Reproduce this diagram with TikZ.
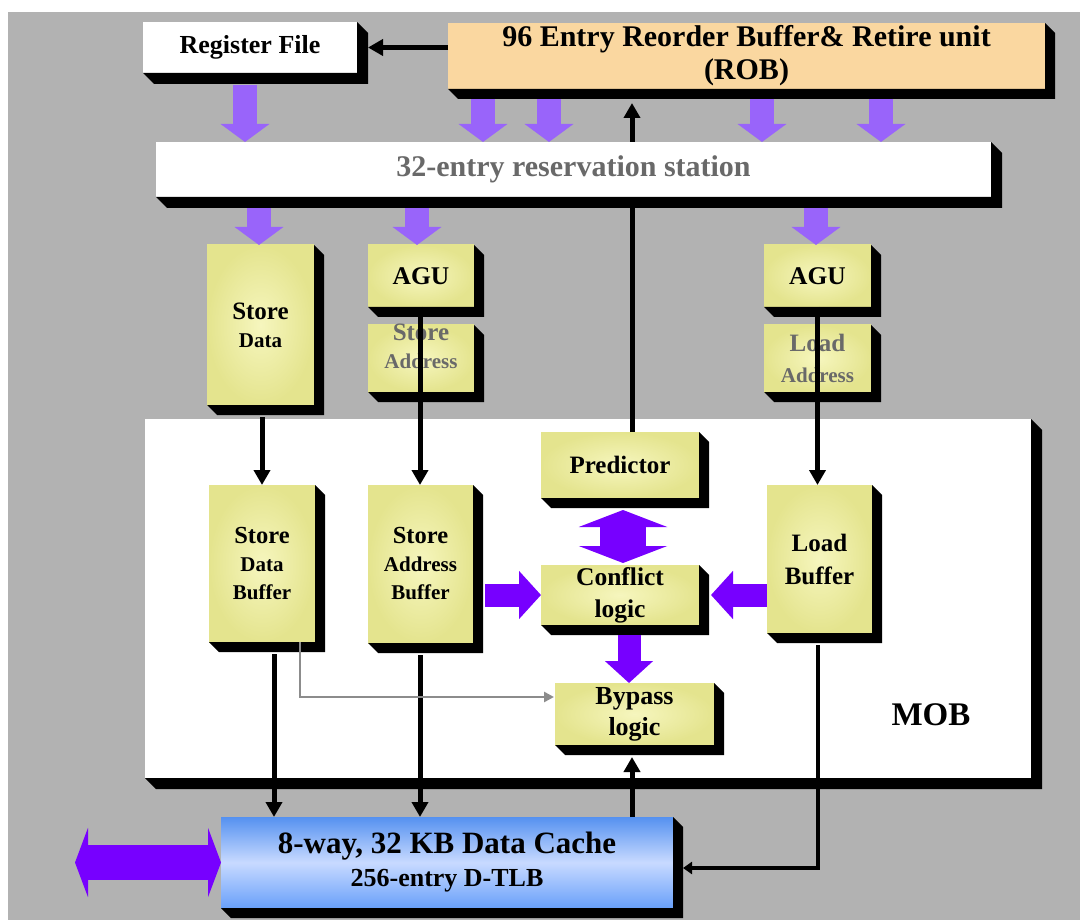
\documentclass[tikz,border=0pt]{standalone}
\usepackage{fontspec}
\setmainfont{Liberation Serif}
\usetikzlibrary{arrows.meta,calc}
\definecolor{bggray}{RGB}{178,178,178}
\definecolor{robc}{RGB}{250,215,160}
\definecolor{yelC}{RGB}{246,246,190}
\definecolor{yelE}{RGB}{228,228,142}
\definecolor{purpL}{RGB}{153,100,250}
\definecolor{purpD}{RGB}{119,0,255}
\definecolor{cacheT}{RGB}{85,145,240}
\definecolor{cacheM}{RGB}{200,218,255}
\definecolor{cacheB}{RGB}{105,160,250}
\definecolor{txtgray}{RGB}{105,105,105}
\definecolor{lnGray}{RGB}{140,140,140}
\newcommand{\shd}[2][10]{\fill[black] (#2.north east) -- ([shift={(#1,#1)}]#2.north east) -- ([shift={(#1,#1)}]#2.south east) -- ([shift={(#1,#1)}]#2.south west) -- (#2.south west) -- (#2.south east) -- cycle;}
\begin{document}
\begin{tikzpicture}[x=1pt,y=-1pt,
  basebox/.style={rectangle, draw=none, inner sep=0pt, outer sep=0pt, align=center, font=\bfseries},
  wbox/.style={basebox, fill=white},
  ybox/.style={basebox, shading=radial, inner color=yelC, outer color=yelE},
  barrow/.style={draw=black, line width=5pt, -{Triangle[length=15pt,width=16pt]}},
  bline/.style={draw=black, line width=5pt},
  parrow/.style={draw=purpL, line width=24pt, -{Triangle[length=18pt,width=48pt]}},
  marrow/.style={draw=purpD, line width=23pt, -{Triangle[length=22pt,width=47pt]}},
  garrow/.style={draw=lnGray, line width=2.5pt, -{Triangle[length=10pt,width=10pt]}},
]
\useasboundingbox (0,0) rectangle (1080,920);
\fill[white] (0,0) rectangle (1080,920);
\fill[bggray] (8,12) rectangle (1080,920);

% MOB region
\node[wbox, minimum width=886pt, minimum height=359pt] (mob) at (588,598.5) {};
\shd[11]{mob}

% top boxes
\node[basebox, fill=robc, minimum width=597pt, minimum height=66pt, font=\bfseries\fontsize{30}{33}\selectfont] (rob) at (746.5,56) {96 Entry Reorder Buffer\& Retire unit\\(ROB)};
\shd{rob}
\node[wbox, minimum width=214pt, minimum height=51pt, font=\bfseries\fontsize{26}{30}\selectfont] (rf) at (250,47.5) {Register File};
\shd[11]{rf}
\node[wbox, minimum width=835pt, minimum height=55pt, text=txtgray, font=\bfseries\fontsize{30}{32}\selectfont] (rs) at (573.5,169.5) {32-entry reservation station};
\shd[11]{rs}

% execution units
\node[ybox, minimum width=107pt, minimum height=160pt, font=\bfseries\fontsize{25}{28}\selectfont] (sd) at (260.5,325) {Store\\{\fontsize{21}{28}\selectfont Data}};
\shd{sd}
\node[ybox, minimum width=106pt, minimum height=62pt, font=\bfseries\fontsize{25.5}{28}\selectfont] (agu1) at (421,276) {AGU};
\shd{agu1}
\node[ybox, minimum width=106pt, minimum height=67pt] (sa) at (421,358.5) {};
\shd{sa}
\node[basebox, text=txtgray, font=\bfseries\fontsize{25}{28}\selectfont] (salabel) at (421,346) {Store\\{\fontsize{21}{28}\selectfont Address}};
\node[ybox, minimum width=107pt, minimum height=62pt, font=\bfseries\fontsize{25.5}{28}\selectfont] (agu2) at (817.5,276) {AGU};
\shd{agu2}
\node[ybox, minimum width=107pt, minimum height=67pt, text=txtgray, font=\bfseries\fontsize{25}{31}\selectfont] (la) at (817.5,358.5) {Load\\{\fontsize{21}{31}\selectfont Address}};
\shd{la}

% MOB internals
\node[ybox, minimum width=158pt, minimum height=66pt, font=\bfseries\fontsize{25}{28}\selectfont] (pr) at (620,465) {Predictor};
\shd{pr}
\node[ybox, minimum width=106pt, minimum height=157pt, font=\bfseries\fontsize{24.5}{28}\selectfont] (sdb) at (262,563.5) {Store\\{\fontsize{21}{27}\selectfont Data}\\{\fontsize{21}{27}\selectfont Buffer}};
\shd{sdb}
\node[ybox, minimum width=105pt, minimum height=158pt, font=\bfseries\fontsize{24.5}{28}\selectfont] (sab) at (420.5,564) {Store\\{\fontsize{21}{27}\selectfont Address}\\{\fontsize{21}{27}\selectfont Buffer}};
\shd{sab}
\node[ybox, minimum width=158pt, minimum height=60pt, font=\bfseries\fontsize{25.5}{32}\selectfont] (cf) at (620,595) {Conflict\\logic};
\shd{cf}
\node[ybox, minimum width=105pt, minimum height=148pt, font=\bfseries\fontsize{25}{33}\selectfont] (lb) at (819.5,559) {Load\\Buffer};
\shd{lb}
\node[ybox, minimum width=159pt, minimum height=62pt, font=\bfseries\fontsize{26}{31}\selectfont] (bp) at (634.5,714) {Bypass\\logic};
\shd{bp}
\node[basebox, font=\bfseries\fontsize{33}{38}\selectfont] (moblabel) at (931,715) {MOB};

% cache
\node[basebox, top color=cacheT, bottom color=cacheB, middle color=cacheM, minimum width=452pt, minimum height=91pt, font=\bfseries\fontsize{31}{33}\selectfont] (cache) at (447,862.5) {8-way, 32 KB Data Cache\\{\fontsize{26}{33}\selectfont 256-entry D-TLB}};
\shd{cache}
\coordinate (ext) at (75,862.5);

% ---- connectors ----
\draw[barrow] (rob.west |- rf.east) -- ($(rf.east)+(11,0)$);
\draw[bline] ($(pr.north)+(12,0)$) -- ($(rs.south west)+(476,0)$);
\draw[barrow] ($(rs.north west)+(476,0)$) -- ($(rob.south west)+(184,14)$);

\draw[parrow] ($(rf.south west)+(102,12)$) -- ($(rs.north west)+(89,0)$);
\draw[parrow] ($(rob.south west)+(35,10)$) -- ($(rs.north west)+(327,0)$);
\draw[parrow] ($(rob.south west)+(101,10)$) -- ($(rs.north west)+(393,0)$);
\draw[parrow] ($(rob.south west)+(314,10)$) -- ($(rs.north west)+(606,0)$);
\draw[parrow] ($(rob.south west)+(433,10)$) -- ($(rs.north west)+(725,0)$);

\draw[parrow] ($(rs.south west)+(103,11)$) -- ($(sd.north)+(-1.5,0)$);
\draw[parrow] ($(rs.south west)+(261,11)$) -- ($(agu1.north)+(-4,0)$);
\draw[parrow] ($(rs.south west)+(660,11)$) -- ($(agu2.north)+(-1.5,0)$);

\draw[barrow] ($(sd.south)+(1.5,12)$) -- (sdb.north);
\draw[barrow] ($(agu1.south)+(-1,0)$) -- ($(sab.north)+(-0.5,0)$);
\draw[barrow] (agu2.south) -- ($(lb.north)+(-2,0)$);

\draw[barrow] ($(sdb.south)+(12,12)$) -- ($(cache.north west)+(53,0)$);
\draw[barrow] ($(sab.south)+(-0.5,12)$) -- ($(cache.north west)+(199,0)$);
\draw[barrow] ($(cache.north west)+(411,0)$) -- ($(bp.south)+(-2.5,12)$);
\draw[draw=black, line width=4pt, -{Triangle[length=9pt,width=12pt]}] ($(lb.south)+(-2,12)$) |- ($(cache.east)+(10,5.5)$);

\draw[garrow] ($(sdb.south)+(38,0)$) |- ($(bp.west)+(-1,-17)$);

\draw[marrow] ($(sab.east)+(12,31)$) -- (cf.west);
\draw[marrow] ($(lb.west)+(0,36)$) -- ($(cf.east)+(12,0)$);
\draw[marrow] ($(cf.south)+(9,10)$) -- ($(bp.north)+(-5.5,0)$);
\draw[draw=purpD, line width=46pt, {Triangle[length=17pt,width=88pt]}-{Triangle[length=17pt,width=88pt]}] ($(pr.south)+(3,12)$) -- ($(cf.north)+(3,-2)$);

\draw[draw=purpD, line width=35pt, {Triangle[length=13pt,width=69pt]}-{Triangle[length=13pt,width=69pt]}] (ext) -- (cache.west);
\end{tikzpicture}
\end{document}
